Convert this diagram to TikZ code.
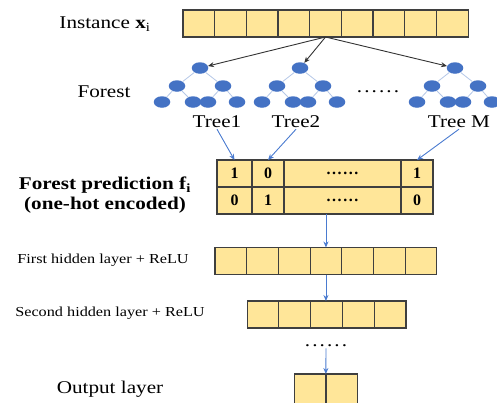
\documentclass[tikz,border=0pt]{standalone}
\usepackage{fontspec}
\setmainfont{Liberation Serif}
\usetikzlibrary{arrows.meta,shapes.geometric,positioning}
\definecolor{cellyellow}{HTML}{FFE699}
\definecolor{cellline}{HTML}{3F3F3F}
\definecolor{treeblue}{HTML}{4472C4}
\definecolor{branchblue}{HTML}{B4C7E7}
\definecolor{arrowblue}{HTML}{4A7BD0}
\newcommand{\sixdots}{.\kern0.1em.\kern0.1em.\kern0.1em.\kern0.1em.\kern0.1em.}
\tikzset{
	cell/.style={draw=cellline, fill=cellyellow, line width=1.1bp, minimum width=31.7bp,
		minimum height=27bp, inner sep=0pt, outer sep=0pt, font=\bfseries\fontsize{16}{16}\selectfont},
	leaf/.style={ellipse, fill=treeblue, minimum width=16.5bp, minimum height=11.5bp, inner sep=0pt},
	branch/.style={draw=branchblue, line width=0.8bp},
	lbl/.style={font=\fontsize{18}{20}\selectfont, xscale=1.18, transform shape, inner sep=1bp},
	smalllbl/.style={font=\fontsize{13.8}{15}\selectfont, xscale=1.18, transform shape, inner sep=1bp},
	inarrow/.style={draw=black!80, line width=0.9bp, -{Stealth[length=6bp,width=5bp]}},
	barrow/.style={draw=arrowblue, line width=0.9bp, -{Stealth[length=6bp,width=5bp]}}
}

\begin{document}
\begin{tikzpicture}[x=1bp,y=-1bp]
			\useasboundingbox (0,0) rectangle (497,402);
			
			% instance
			\node[lbl] (inst) at (105,24) {Instance \textbf{x}\textsubscript{i}};
			\foreach \i in {1,...,9}
				\node[cell] (x\i) at ({183+31.67*(\i-0.5)},23.5) {};
			
			% forest
			\node[lbl] (forest) at (104,92) {Forest};
			\foreach \t/\r in {a/200,b/300,m/455} {
				\node[leaf] (\t0) at (\r,68) {};
				\node[leaf] (\t1) at ({\r-23},86) {};
				\node[leaf] (\t2) at ({\r+23},86) {};
				\node[leaf] (\t3) at ({\r-38},102) {};
				\node[leaf] (\t4) at ({\r-7},102) {};
				\node[leaf] (\t5) at ({\r+8},102) {};
				\node[leaf] (\t6) at ({\r+37},102) {};
				\draw[branch] (\t0) -- (\t1) (\t0) -- (\t2) (\t1) -- (\t3)
					(\t1) -- (\t4) (\t2) -- (\t5) (\t2) -- (\t6);
			}
			\node[lbl] (tdots) at (378,92) {\sixdots};
			\draw[inarrow] (x5.south) -- (a0);
			\draw[inarrow] (x5.south) -- (b0);
			\draw[inarrow] (x5.south) -- (m0);
			
			\node[lbl] (t1) at (217,122) {Tree1};
			\node[lbl] (t2) at (296,122) {Tree2};
			\node[lbl] (tm) at (459,122) {Tree M};
			
			% forest prediction
			\node[lbl, font=\bfseries\fontsize{18}{20}\selectfont, align=center] (pred) at (105,195)
				{Forest prediction \textbf{f}\textsubscript{i}\\(one-hot encoded)};
			\foreach \c/\x/\w/\u/\v in {1/234.5/35/1/0, 2/268/32/0/1, 3/342.5/117/\sixdots/\sixdots, 4/417/32/1/0} {
				\node[cell, minimum width=\w bp] (p1\c) at (\x,173.5) {\u};
				\node[cell, minimum width=\w bp] (p2\c) at (\x,200.5) {\v};
			}
			\draw[barrow] (t1.south) -- (p11.north);
			\draw[barrow] (t2.south) -- (p12.north);
			\draw[barrow] (tm.south) -- (p14.north);
			
			% layers
			\node[smalllbl] (first) at (103,260) {First hidden layer + ReLU};
			\foreach \i in {1,...,7}
				\node[cell] (h\i) at ({215+31.7*(\i-0.5)},261) {};
			\node[smalllbl] (second) at (110,313) {Second hidden layer + ReLU};
			\foreach \i in {1,...,5}
				\node[cell] (s\i) at ({247+31.8*(\i-0.5)},314.5) {};
			\node[lbl] (odots) at (326,346) {\sixdots};
			\node[lbl] (out) at (110,389) {Output layer};
			\foreach \i in {1,2}
				\node[cell, minimum height=30bp] (o\i) at ({294+32*(\i-0.5)},389) {};
			
			\draw[barrow] (h4.north |- p23.south) -- (h4.north);
			\draw[barrow] (h4.south) -- (h4.south |- s3.north);
			\draw[barrow] (odots.south) -- (o1.north east);
			
\end{tikzpicture}
\end{document}
